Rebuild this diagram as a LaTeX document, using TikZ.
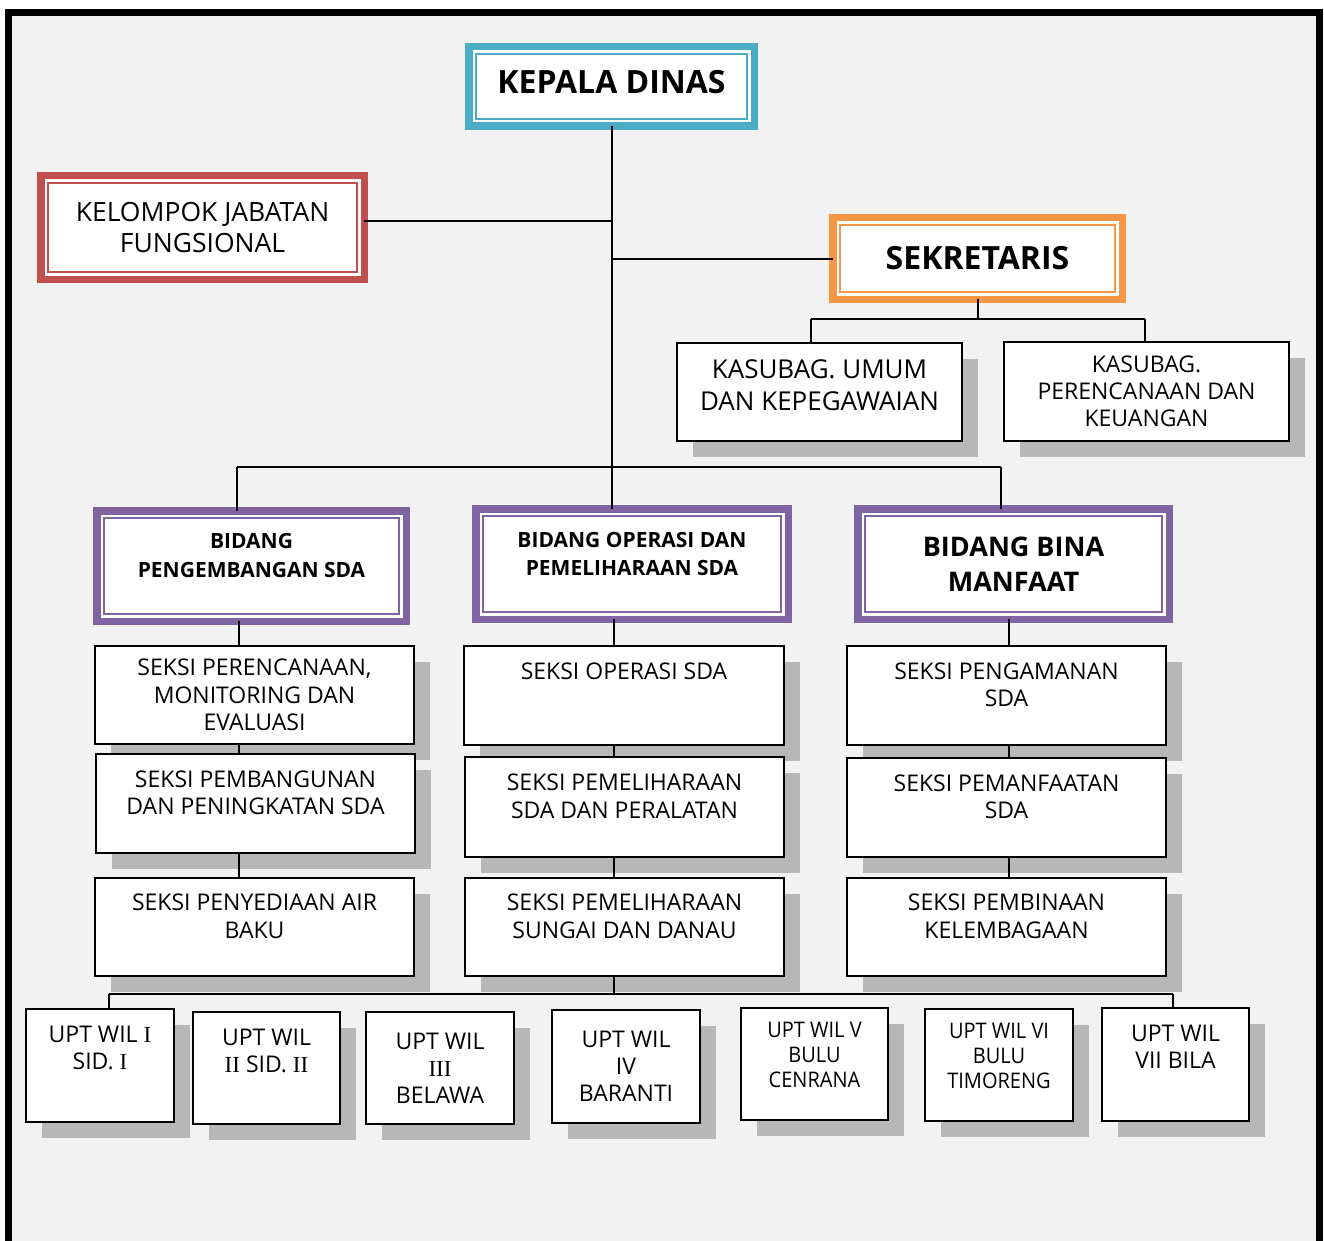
\documentclass[tikz,border=0pt]{standalone}
\usepackage{fontspec}
\setmainfont{Open Sans}
\newfontfamily\narrowfont[FakeStretch=0.93]{Open Sans}
\newfontfamily\numfont{Liberation Serif}
\usetikzlibrary{shadows}

\definecolor{kdteal}{HTML}{4BACC6}
\definecolor{jfred}{HTML}{C0504D}
\definecolor{sekorange}{HTML}{F79646}
\definecolor{bidpurple}{HTML}{8064A2}
\definecolor{shadowgray}{HTML}{B7B7B7}
\definecolor{bggray}{HTML}{F2F2F2}

\tikzset{
  headbox/.style={draw=#1, fill=white, line width=7.5pt, inner sep=0pt, outer sep=0pt, align=center},
  unitbox/.style={draw=black, fill=white, line width=1.8pt, inner sep=0pt, outer sep=0pt, align=center,
    general shadow={fill=shadowgray, shadow xshift=16pt, shadow yshift=-16pt}},
  seksi/.style={unitbox, font=\fontsize{23}{27.5}\selectfont},
  upt/.style={unitbox, font=\fontsize{23}{27}\selectfont},
  link/.style={line width=2pt, black},
}

\begin{document}
\begin{tikzpicture}[x=1pt, y=-1pt]
	\useasboundingbox (0,0) rectangle (1324,1241);
	\fill[white] (0,0) rectangle (1324,1241);
	\draw[line width=7pt, fill=bggray] (8.5,12.5) rectangle (1319.5,1262);

	% top level
	\node[headbox=kdteal, minimum width=285.5, minimum height=79.5, font=\bfseries\fontsize{32}{38}\selectfont] (kd) at (611.5,86.5) {KEPALA DINAS\\[-40pt]\strut};
	\node[headbox=jfred, minimum width=323.5, minimum height=103.5, font=\fontsize{26.5}{31}\selectfont] (kjf) at (202.5,227.5) {KELOMPOK JABATAN\\FUNGSIONAL};
	\node[headbox=sekorange, minimum width=289.5, minimum height=81.5, font=\bfseries\fontsize{32}{36}\selectfont] (sek) at (977.5,258.5) {SEKRETARIS};

	\node[unitbox, minimum width=285, minimum height=98, font=\fontsize{26}{32}\selectfont] (ks1) at (819.5,392) {KASUBAG. UMUM\\DAN KEPEGAWAIAN\\[-28pt]\strut};
	\node[unitbox, minimum width=285, minimum height=99, font=\fontsize{23}{27}\selectfont] (ks2) at (1146.5,391.5) {KASUBAG.\\PERENCANAAN DAN\\KEUANGAN};

	% bidang
	\node[headbox=bidpurple, minimum width=309.5, minimum height=110.5, font=\bfseries\fontsize{21}{29}\selectfont] (b1) at (251.5,566) {BIDANG\\PENGEMBANGAN SDA\\[-16pt]\strut};
	\node[headbox=bidpurple, minimum width=312.5, minimum height=110.5, font=\bfseries\fontsize{21}{28}\selectfont] (b2) at (632,564) {BIDANG OPERASI DAN\\PEMELIHARAAN SDA\\[-16pt]\strut};
	\node[headbox=bidpurple, minimum width=311.5, minimum height=110.5, font=\bfseries\fontsize{27}{35}\selectfont] (b3) at (1013.5,564) {BIDANG BINA\\MANFAAT};

	% seksi
	\node[seksi, minimum width=319, minimum height=98] (s11) at (254.5,695) {SEKSI PERENCANAAN,\\MONITORING DAN\\EVALUASI};
	\node[seksi, minimum width=319, minimum height=99] (s12) at (255.5,803.5) {SEKSI PEMBANGUNAN\\DAN PENINGKATAN SDA\\[-14pt]\strut};
	\node[seksi, minimum width=319, minimum height=98] (s13) at (254.5,927) {SEKSI PENYEDIAAN AIR\\BAKU\\[-14pt]\strut};
	\node[seksi, minimum width=320, minimum height=99] (s21) at (624,695.5) {SEKSI OPERASI SDA\\\strut\\[-14pt]\strut};
	\node[seksi, minimum width=319, minimum height=100] (s22) at (624.5,807) {SEKSI PEMELIHARAAN\\SDA DAN PERALATAN\\[-14pt]\strut};
	\node[seksi, minimum width=319, minimum height=98] (s23) at (624.5,927) {SEKSI PEMELIHARAAN\\SUNGAI DAN DANAU\\[-14pt]\strut};
	\node[seksi, minimum width=319, minimum height=99] (s31) at (1006.5,695.5) {SEKSI PENGAMANAN\\SDA\\[-14pt]\strut};
	\node[seksi, minimum width=319, minimum height=99] (s32) at (1006.5,807.5) {SEKSI PEMANFAATAN\\SDA\\[-14pt]\strut};
	\node[seksi, minimum width=319, minimum height=98] (s33) at (1006.5,927) {SEKSI PEMBINAAN\\KELEMBAGAAN\\[-14pt]\strut};

	% upt
	\node[upt, minimum width=148, minimum height=113] (u1) at (100,1065.5) {UPT WIL {\numfont I}\\SID. {\numfont I}\\\strut};
	\node[upt, minimum width=147, minimum height=112] (u2) at (266.5,1068) {UPT WIL\\{\numfont II} SID. {\numfont II}\\\strut};
	\node[upt, minimum width=148, minimum height=112] (u3) at (440,1068) {UPT WIL\\{\numfont III}\\BELAWA};
	\node[upt, minimum width=148, minimum height=113] (u4) at (626,1066.5) {UPT WIL\\IV\\BARANTI};
	\node[upt, minimum width=147, minimum height=112, font=\narrowfont\fontsize{21.5}{25}\selectfont] (u5) at (814.5,1064) {UPT WIL V\\BULU\\CENRANA\\[-14pt]\strut};
	\node[upt, minimum width=148, minimum height=112, font=\narrowfont\fontsize{21.5}{25}\selectfont] (u6) at (999,1065) {UPT WIL VI\\BULU\\TIMORENG\\[-14pt]\strut};
	\node[upt, minimum width=147, minimum height=113] (u7) at (1175.5,1064.5) {UPT WIL\\VII BILA\\\strut};

	\foreach \n/\col in {kd/kdteal, kjf/jfred, sek/sekorange, b1/bidpurple, b2/bidpurple, b3/bidpurple}
		\draw[\col, line width=1.8pt] ([shift={(7.5,7.5)}]\n.north west) rectangle ([shift={(-7.5,-7.5)}]\n.south east);

	\coordinate (jf) at (611,221);
	\coordinate (sl) at (811,319);
	\coordinate (sr) at (1145,319);
	\coordinate (bl) at (237,467);
	\coordinate (br) at (1001,467);
	\coordinate (c1) at (239,0);
	\coordinate (c2) at (614,0);
	\coordinate (c3) at (1009,0);
	\coordinate (ul) at (109,994);
	\coordinate (ur) at (1173,994);

	\draw[link] (kd.south) -- (kd.south |- b2.north);
	\draw[link] (jf) -- (jf -| kjf.east);
	\draw[link] (sek.west) -- (sek.west -| kd.south);
	\draw[link] (sek.south) -- (sek.south |- sl);
	\draw[link] (sl) -- (sr);
	\draw[link] (sl) -- (sl |- ks1.north);
	\draw[link] (sr) -- (sr |- ks2.north);
	\draw[link] (bl) -- (br);
	\draw[link] (bl) -- (bl |- b1.north);
	\draw[link] (br) -- (br |- b3.north);

	\foreach \a/\b/\c in {b1/s11/c1, s11/s12/c1, s12/s13/c1, b2/s21/c2, s21/s22/c2, s22/s23/c2, b3/s31/c3, s31/s32/c3, s32/s33/c3}
		\draw[link] (\a.south -| \c) -- (\b.north -| \c);

	\draw[link] (ul) -- (ur);
	\draw[link] (s23.south -| c2) -- (c2 |- ul);
	\draw[link] (ul) -- (ul |- u1.north);
	\draw[link] (ur) -- (ur |- u7.north);
\end{tikzpicture}
\end{document}
